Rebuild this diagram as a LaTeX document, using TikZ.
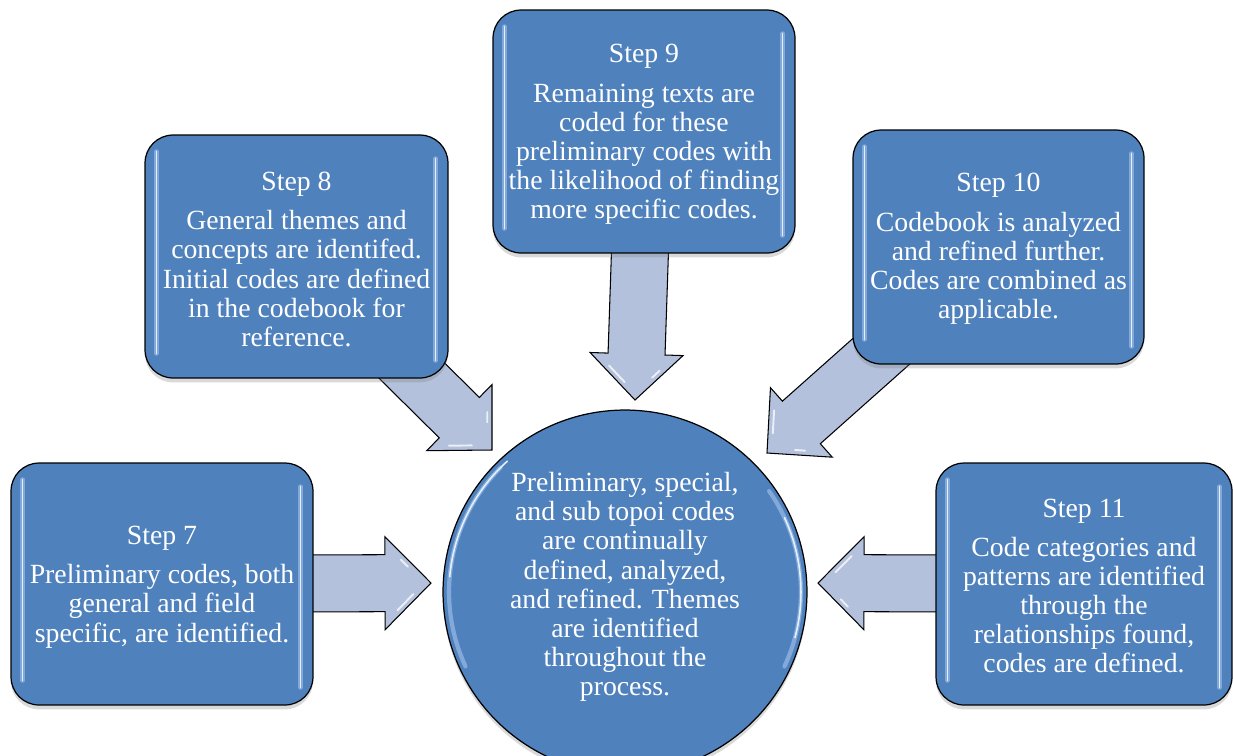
\documentclass[tikz,border=0pt]{standalone}
\usepackage{fontspec}
\setmainfont{Liberation Serif}
\usetikzlibrary{calc,shadows}
\pgfdeclarelayer{bg}
\pgfsetlayers{bg,main}
\definecolor{boxblue}{HTML}{4F81BD}
\definecolor{arrfill}{HTML}{B3C1DC}
\definecolor{gloss}{HTML}{E4EFFC}
\definecolor{glow}{HTML}{8FB4E2}
\tikzset{
  stepbox/.style={draw=black, line width=0.7pt, fill=boxblue, rounded corners=0.56cm,
    inner sep=0pt, drop shadow={opacity=0.3, shadow xshift=0pt, shadow yshift=-2.5pt}},
  steptext/.style={text=white, align=center, inner sep=0pt, font=\fontsize{15.8}{16.6}\selectfont},
  hubcircle/.style={circle, draw=black, line width=0.7pt, fill=boxblue, inner sep=0pt,
    minimum size=7.28cm, drop shadow={opacity=0.3, shadow xshift=0pt, shadow yshift=-2.5pt}},
  arrsty/.style={draw=black, line width=0.6pt, fill=arrfill, line join=miter},
  glowline/.style={draw=glow, line width=2.4pt, line cap=round, opacity=0.8},
  glossline/.style={draw=gloss, line width=0.9pt, line cap=round},
  arrshine/.style={draw=white, line width=1.1pt, line cap=round, opacity=0.75}
}
\newcommand{\blockarr}[2]{%
  \coordinate (ab) at ($(#2)!0.92cm!(#1)$);
  \coordinate (hp) at ($(ab)!0.93cm!90:(#2)$);
  \coordinate (hm) at ($(ab)!0.93cm!-90:(#2)$);
  \path[arrsty] ($(#1)!0.57cm!90:(#2)$) -- ($(ab)!0.57cm!90:(#2)$) -- (hp)
    -- (#2) -- (hm) -- ($(ab)!0.57cm!-90:(#2)$) -- ($(#1)!0.57cm!-90:(#2)$) -- cycle;
  \coordinate (hg) at ($1/3*(hp)+1/3*(hm)+1/3*(#2)$);
  \coordinate (hpi) at ($(hg)!0.78!(hp)$);
  \coordinate (hmi) at ($(hg)!0.78!(hm)$);
  \coordinate (hti) at ($(hg)!0.78!(#2)$);
  \draw[arrshine] ($(hpi)!0.35!(hti)$) -- ($(hpi)!0.55!(hti)$);
  \draw[arrshine] ($(hmi)!0.25!(hti)$) -- ($(hmi)!0.7!(hti)$);
}
\newcommand{\boxgloss}[1]{%
  \draw[glowline] ($(#1.north west)+(12,17)$) -- ($(#1.south west)+(12,-25)$);
  \draw[glowline] ($(#1.north east)+(-13,24)$) -- ($(#1.south east)+(-13,-18)$);
  \draw[glossline] ($(#1.north west)+(12,17)$) -- ($(#1.south west)+(12,-25)$);
  \draw[glossline] ($(#1.north east)+(-13,24)$) -- ($(#1.south east)+(-13,-18)$);
}
\begin{document}
\begin{tikzpicture}[x=0.02cm,y=-0.02cm]
\useasboundingbox (0,0) rectangle (1233,755);
\clip (0,0) rectangle (1233,755);

% step boxes
\node[stepbox, minimum width=6.04cm, minimum height=4.84cm] (b7) at (162,584) {};
\node[stepbox, minimum width=6.06cm, minimum height=4.86cm] (b8) at (296.5,256.5) {};
\node[stepbox, minimum width=6.04cm, minimum height=4.86cm] (b9) at (644,131.5) {};
\node[stepbox, minimum width=5.82cm, minimum height=4.68cm] (b10) at (998.5,247) {};
\node[stepbox, minimum width=5.92cm, minimum height=4.84cm] (b11) at (1084,584) {};

% hub
\node[hubcircle] (c) at (625,592) {};

% gloss highlights
\boxgloss{b7}\boxgloss{b8}\boxgloss{b9}\boxgloss{b10}\boxgloss{b11}
\draw[glowline] ($(c.center)+(135:3.52cm)$) arc[start angle=135, end angle=205, radius=3.52cm];
\draw[glossline] ($(c.center)+(132:3.52cm)$) arc[start angle=132, end angle=175, radius=3.52cm];
\draw[glowline] ($(c.center)+(-25:3.52cm)$) arc[start angle=-25, end angle=35, radius=3.52cm];
\draw[glossline] ($(c.center)+(-15:3.52cm)$) arc[start angle=-15, end angle=25, radius=3.52cm];

% texts
\node[steptext] (b7t) at ($(b7)+(0,3)$)
  {Step 7\\[5.7pt]Preliminary codes, both\\general and field\\specific, are identified.};
\node[steptext] (b8t) at ($(b8)+(0,3)$)
  {Step 8\\[5.7pt]General themes and\\concepts are identifed.\\Initial codes are defined\\in the codebook for\\reference.};
\node[steptext] (b9t) at ($(b9)+(0,3)$)
  {Step 9\\[5.7pt]Remaining texts are\\coded for these\\preliminary codes with\\the likelihood of finding\\more specific codes.};
\node[steptext] (b10t) at ($(b10)+(0,2)$)
  {Step 10\\[5.7pt]Codebook is analyzed\\and refined further.\\Codes are combined as\\applicable.};
\node[steptext] (b11t) at ($(b11)+(0,2)$)
  {Step 11\\[5.7pt]Code categories and\\patterns are identified\\through the\\relationships found,\\codes are defined.};
\node[steptext] (ct) at (625,587)
  {Preliminary, special,\\and sub topoi codes\\are continually\\defined, analyzed,\\and refined. Themes\\are identified\\throughout the\\process.};

% arrow tips
\coordinate (t7) at (431,583);
\coordinate (t8) at (492,450);
\coordinate (t9) at (635,400);
\coordinate (t10) at (767,453);
\coordinate (t11) at (818,583);

\begin{pgfonlayer}{bg}
  \blockarr{b7}{t7}
  \blockarr{b8}{t8}
  \blockarr{b9}{t9}
  \blockarr{b10}{t10}
  \blockarr{b11}{t11}
\end{pgfonlayer}
\end{tikzpicture}
\end{document}
